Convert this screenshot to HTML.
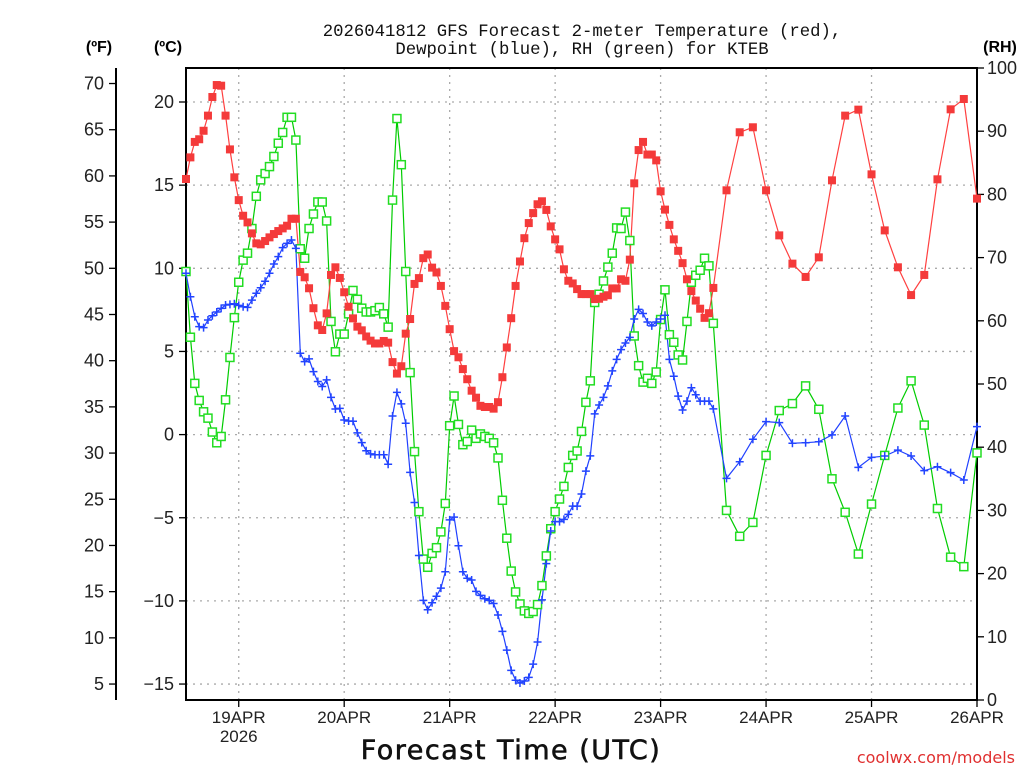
<!DOCTYPE html>
<html><head><meta charset="utf-8"><style>
html,body{margin:0;padding:0;background:#fff;}
svg{display:block;}
text{font-family:"Liberation Sans","DejaVu Sans",sans-serif;}
</style></head><body>
<svg id="chart" width="1024" height="768" viewBox="0 0 1024 768" xmlns="http://www.w3.org/2000/svg">
<text x="582" y="36" font-size="17.3" text-anchor="middle" fill="#111" style="font-family:'Liberation Mono',monospace">2026041812 GFS Forecast 2-meter Temperature (red),</text>
<text x="582" y="54" font-size="17.3" text-anchor="middle" fill="#111" style="font-family:'Liberation Mono',monospace">Dewpoint (blue), RH (green) for KTEB</text>
<text x="99" y="52" font-size="16" font-weight="bold" text-anchor="middle">(ºF)</text>
<text x="168" y="52" font-size="16" font-weight="bold" text-anchor="middle">(ºC)</text>
<text x="1000" y="52" font-size="16" font-weight="bold" text-anchor="middle">(RH)</text>
<text x="511" y="759" font-size="27" text-anchor="middle" fill="#111" letter-spacing="1.5" stroke="#111" stroke-width="0.6" style="font-family:'DejaVu Sans',sans-serif">Forecast Time (UTC)</text>
<text x="1015" y="763" font-size="16" text-anchor="end" fill="#e03030" style="font-family:'DejaVu Sans',sans-serif">coolwx.com/models</text>
<g id="grid"></g>
<g id="axes"></g>
<g id="series"></g>
</svg>
<script>
// hours after 2026-04-18 12Z
const hours = [];
for (let h = 0; h <= 120; h++) hours.push(h);
for (let h = 123; h <= 180; h += 3) hours.push(h);

const tempC = [15.37,16.67,17.6,17.76,18.27,19.18,20.3,21.02,20.98,19.18,17.15,15.47,14.1,13.16,12.76,12.1,11.5,11.44,11.64,11.86,12.06,12.24,12.4,12.56,12.98,12.98,9.78,9.46,8.8,7.6,6.57,6.29,7.29,9.6,10.06,9.42,8.56,7.69,6.99,6.49,6.27,5.9,5.65,5.48,5.48,5.63,5.53,4.36,3.67,4.11,6.07,6.95,9.06,9.41,10.61,10.83,10.04,9.75,8.94,7.74,6.34,5.02,4.65,3.94,3.33,2.64,2.22,1.73,1.66,1.66,1.56,1.95,3.45,5.24,7.0,8.94,10.41,11.81,12.72,13.32,13.85,14.03,13.51,12.52,11.74,11.14,9.94,9.25,9.09,8.75,8.45,8.45,8.45,8.15,8.17,8.29,8.38,8.79,8.79,9.34,9.25,10.52,15.11,17.11,17.6,16.84,16.84,16.49,14.63,13.53,12.61,11.74,11.05,10.31,9.34,8.63,8.06,7.57,7.02,7.3,8.82,
14.69,18.18,18.48,14.69,11.98,10.28,9.48,10.66,15.29,19.18,19.54,15.65,12.28,10.06,8.39,9.6,15.35,19.56,20.18,14.19];

const dewC = [9.7,8.29,7.09,6.49,6.43,6.89,7.15,7.37,7.59,7.79,7.83,7.87,7.77,7.69,7.65,8.09,8.5,8.83,9.22,9.7,10.26,10.7,11.24,11.5,11.7,11.2,4.89,4.39,4.55,3.79,3.19,2.89,3.29,2.24,1.54,1.58,0.88,0.82,0.8,0.1,-0.48,-0.97,-1.16,-1.21,-1.21,-1.21,-1.78,1.12,2.54,1.85,0.68,-2.27,-4.08,-7.27,-9.97,-10.53,-10.11,-9.72,-9.23,-8.25,-5.13,-4.96,-6.68,-8.25,-8.64,-8.74,-9.43,-9.67,-9.87,-9.97,-10.16,-10.85,-11.83,-12.96,-14.18,-14.77,-14.94,-14.82,-14.6,-13.8,-12.47,-9.94,-7.76,-5.8,-5.23,-5.23,-5.1,-4.8,-4.3,-4.3,-3.57,-2.2,-1.28,1.25,1.78,2.24,2.93,3.83,4.52,5.11,5.51,5.85,6.95,7.53,7.28,6.77,6.54,6.77,6.95,7.18,4.52,3.51,2.31,1.48,2.01,2.82,2.4,2.01,2.01,2.01,1.55,
-2.63,-1.63,-0.28,0.78,0.72,-0.52,-0.49,-0.43,-0.02,1.12,-1.97,-1.37,-1.29,-0.93,-1.29,-2.17,-1.93,-2.29,-2.73,0.48];

const rhPct = [67.8,57.4,50.1,47.4,45.6,44.6,42.4,40.7,41.7,47.5,54.2,60.5,66.1,69.6,70.7,74.6,79.7,82.3,83.3,84.4,86.0,88.1,89.8,92.2,92.2,88.6,71.4,69.9,74.6,76.9,78.8,78.8,75.8,59.9,55.1,57.9,57.9,61.1,64.8,63.4,62.0,61.4,61.4,61.6,62.1,61.1,59.0,79.1,92.0,84.7,67.8,51.8,39.3,29.8,22.3,21.0,23.2,24.1,26.6,31.1,43.4,48.1,43.6,40.4,40.9,42.7,41.4,42.1,41.7,41.4,40.7,38.3,31.6,25.6,20.4,17.1,15.2,14.1,13.7,14.0,15.1,18.1,22.8,27.1,29.8,31.8,33.8,36.8,38.7,39.4,42.5,47.1,50.5,62.9,64.2,66.3,68.5,70.7,74.7,74.6,77.2,72.7,57.6,52.9,50.3,50.9,50.1,51.9,60.2,64.9,57.8,56.6,54.6,53.8,59.9,66.1,67.2,68.0,69.9,68.7,59.6,
30.0,25.9,28.1,38.7,45.8,46.9,49.7,46.0,35.0,29.7,23.1,31.0,38.7,46.2,50.5,43.5,30.3,22.6,21.1,39.1];

const celsiusTicks = [20,15,10,5,0,-5,-10,-15];
const fahrenheitTicks = [70,65,60,55,50,45,40,35,30,25,20,15,10,5];
const rhTicks = [100,90,80,70,60,50,40,30,20,10,0];
const dayLabels = ["19APR","20APR","21APR","22APR","23APR","24APR","25APR","26APR"];
const dayHours = [12,36,60,84,108,132,156,180];

const NS = "http://www.w3.org/2000/svg";
const L = 186, R = 977, T = 68, B = 700;
const xs = h => L + (R - L) * h / 180;
const yC = c => 434.6 - 16.63 * c;
const yF = f => yC((f - 32) * 5 / 9);
const yRH = r => B - (B - T) * r / 100;

function mk(tag, attrs, parent) {
  const e = document.createElementNS(NS, tag);
  for (const k in attrs) e.setAttribute(k, attrs[k]);
  parent.appendChild(e);
  return e;
}
const grid = document.getElementById('grid');
const axes = document.getElementById('axes');
const series = document.getElementById('series');

celsiusTicks.forEach(c => {
  const g = mk('line', {x1: L, x2: R, y1: yC(c), y2: yC(c), stroke: '#aaa', 'stroke-width': 1.3, 'stroke-dasharray': '2,5'}, grid);
  
  
  const t = mk('line', {x1: L - 7, x2: L, y1: yC(c), y2: yC(c), stroke: '#000', 'stroke-width': 1.3}, axes);
  
  
  const lb = mk('text', {x: L - 12, y: yC(c) + 6, 'font-size': 18, 'text-anchor': 'end', fill: '#222'}, axes);
  lb.textContent = (c < 0 ? '\u2212' + (-c) : '' + c);
  
  
});
dayHours.forEach((h, i) => {
  const g = mk('line', {x1: xs(h), x2: xs(h), y1: T, y2: B, stroke: '#aaa', 'stroke-width': 1.3, 'stroke-dasharray': '2,5'}, grid);
  
  
  const t = mk('line', {x1: xs(h), x2: xs(h), y1: B, y2: B + 7, stroke: '#000', 'stroke-width': 1.3}, axes);
  
  
  const lb = mk('text', {x: xs(h), y: B + 23, 'font-size': 17, 'text-anchor': 'middle', fill: '#222'}, axes);
  lb.textContent = dayLabels[i];
  
  
});
const yr = mk('text', {x: xs(12), y: B + 42, 'font-size': 17, 'text-anchor': 'middle', fill: '#222'}, axes);
yr.textContent = '2026';



const fAxis = mk('line', {x1: 116, x2: 116, y1: T, y2: B, stroke: '#000', 'stroke-width': 2}, axes);


fahrenheitTicks.forEach(f => {
  const t = mk('line', {x1: 109, x2: 116, y1: yF(f), y2: yF(f), stroke: '#000', 'stroke-width': 1.3}, axes);
  
  
  const lb = mk('text', {x: 104, y: yF(f) + 6, 'font-size': 18, 'text-anchor': 'end', fill: '#222'}, axes);
  lb.textContent = '' + f;
  
  
});
rhTicks.forEach(r => {
  const t = mk('line', {x1: R, x2: R + 7, y1: yRH(r), y2: yRH(r), stroke: '#000', 'stroke-width': 1.3}, axes);
  
  
  const lb = mk('text', {x: R + 10, y: yRH(r) + 6, 'font-size': 18, 'text-anchor': 'start', fill: '#222'}, axes);
  lb.textContent = '' + r;
  
  
});
const frame = mk('rect', {x: L, y: T, width: R - L, height: B - T, fill: 'none', stroke: '#000', 'stroke-width': 2}, axes);



function drawLine(vals, yfn, color, name) {
  const pts = vals.map((v, i) => xs(hours[i]).toFixed(1) + ',' + yfn(v).toFixed(1)).join(' ');
  const pl = mk('polyline', {points: pts, fill: 'none', stroke: color, 'stroke-width': 1.2}, series);
  
  
}
drawLine(rhPct, yRH, '#00cc00', 'rh');
drawLine(dewC, yC, '#2040ff', 'dewpoint');
drawLine(tempC, yC, '#ff4040', 'temperature');

rhPct.forEach((v, i) => {
  const m = mk('rect', {x: xs(hours[i]) - 4, y: yRH(v) - 4, width: 8, height: 8, fill: '#fff', stroke: '#22dd22', 'stroke-width': 1.5}, series);
  
  
});
dewC.forEach((v, i) => {
  const x = xs(hours[i]), y = yC(v);
  const m = mk('path', {d: `M${x-4} ${y}H${x+4}M${x} ${y-4}V${y+4}`, stroke: '#2244ff', 'stroke-width': 1.5, fill: 'none'}, series);
  
  
});
tempC.forEach((v, i) => {
  const m = mk('rect', {x: xs(hours[i]) - 4, y: yC(v) - 4, width: 8, height: 8, fill: '#f43a3a'}, series);
  
  
});
</script>
</body></html>
